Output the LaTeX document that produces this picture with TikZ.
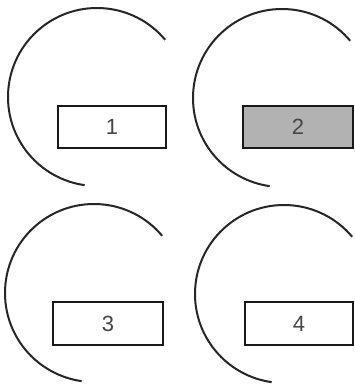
\documentclass[tikz,border=0pt]{standalone}
\usepackage{fontspec}
\setmainfont{Liberation Sans}
\definecolor{boxgray}{RGB}{178,178,178}
\definecolor{txtgray}{RGB}{70,70,70}
\tikzset{
  ring/.style={line width=2pt, draw=black!85},
  box/.style={draw=black!90, line width=2.1pt, fill=white, rectangle, inner sep=0pt,
    minimum width=108pt, minimum height=42pt, font=\fontsize{22}{22}\selectfont, text=txtgray},
  graybox/.style={box, fill=boxgray}
}
\begin{document}
\begin{tikzpicture}[x=1pt,y=1pt]
\useasboundingbox (0,0) rectangle (355,384);
% panel 1
\coordinate (c1) at (97,287);
\draw[ring] (c1) ++(40:89pt) arc[start angle=40,end angle=262,radius=89pt];
\node[box] (b1) at (112,257) {1};
% panel 2
\coordinate (c2) at (282,286);
\draw[ring] (c2) ++(40:89pt) arc[start angle=40,end angle=262,radius=89pt];
\node[graybox, minimum width=110pt] (b2) at (298,257) {2};
% panel 3
\coordinate (c3) at (94,91);
\draw[ring] (c3) ++(40:89pt) arc[start angle=40,end angle=262,radius=89pt];
\node[box, minimum width=110pt, minimum height=43pt] (b3) at (108,60.5) {3};
% panel 4
\coordinate (c4) at (284,90);
\draw[ring] (c4) ++(40:89pt) arc[start angle=40,end angle=262,radius=89pt];
\node[box, minimum width=108pt, minimum height=43pt] (b4) at (299,60.5) {4};
\end{tikzpicture}
\end{document}
